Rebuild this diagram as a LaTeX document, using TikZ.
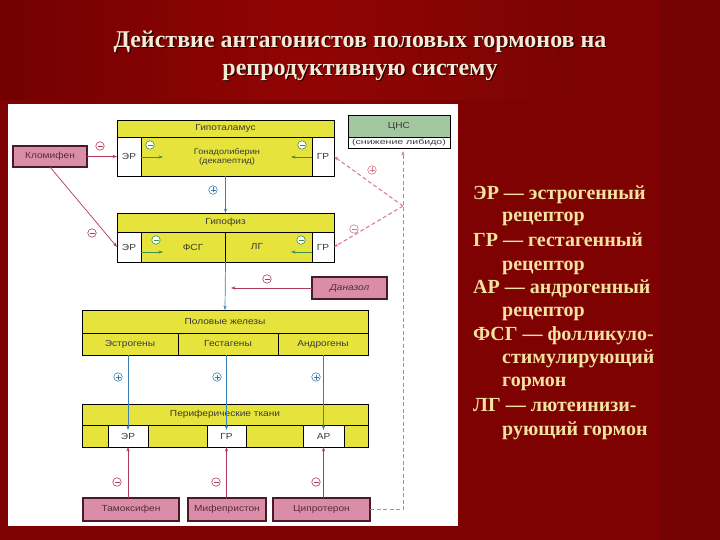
\documentclass[tikz,border=0pt]{standalone}
\usepackage{fontspec}
\setmainfont{Liberation Serif}
\newfontfamily\dsans[FakeStretch=1.15]{Liberation Sans}
\newfontfamily\dsansw[FakeStretch=1.45]{Liberation Sans}
\usetikzlibrary{arrows.meta,calc}
\definecolor{bgred}{HTML}{7E0202}
\definecolor{bgtop}{HTML}{920404}
\definecolor{bgtopL}{HTML}{720101}
\definecolor{yel}{HTML}{E6E33C}
\definecolor{txt}{HTML}{3A3A3A}
\definecolor{pinkc}{HTML}{D98DA9}
\definecolor{drugedge}{HTML}{4A1A28}
\definecolor{drugtxt}{HTML}{5A2A3A}
\definecolor{cnsg}{HTML}{A3C8A0}
\definecolor{bluec}{HTML}{3B80B5}
\definecolor{redc}{HTML}{B03A58}
\definecolor{dashc}{HTML}{D9788C}
\definecolor{greenc}{HTML}{3F8F4A}
\definecolor{cream}{HTML}{F4EAD6}
\definecolor{legc}{HTML}{F3E2A0}
\tikzset{
  blk/.style={draw=black, line width=0.8pt, fill=yel, inner sep=0pt, outer sep=0pt,
    font=\dsans\fontsize{8.8}{10}\selectfont, text=txt, align=center},
  cellw/.style={blk, fill=white},
  drug/.style={draw=drugedge, line width=1.1pt, fill=pinkc, inner sep=0pt, outer sep=0pt,
    font=\dsans\fontsize{8.8}{10}\selectfont, text=drugtxt},
  lbl/.style={font=\dsans\fontsize{8}{9}\selectfont, text=txt, inner sep=0pt, align=center},
  sgnc/.style={circle, draw=#1, line width=0.6pt, minimum size=8.5pt, inner sep=0pt, fill=white},
  sminus/.style={sgnc=#1, path picture={\draw[#1,line width=0.6pt]
     ([xshift=-2.5pt]path picture bounding box.center) -- ([xshift=2.5pt]path picture bounding box.center);}},
  splus/.style={sgnc=#1, path picture={\draw[#1,line width=0.6pt]
     ([xshift=-2.5pt]path picture bounding box.center) -- ([xshift=2.5pt]path picture bounding box.center)
     ([yshift=-2.5pt]path picture bounding box.center) -- ([yshift=2.5pt]path picture bounding box.center);}},
  arr/.style={-{Stealth[length=4.5pt,width=3.2pt]}, line width=0.7pt},
  dsh/.style={arr, draw=dashc, line width=1pt, dash pattern=on 4pt off 2.5pt},
  ttl/.style={font=\fontsize{24}{27}\selectfont\bfseries, text=cream, inner sep=0pt},
  ttlsh/.style={font=\fontsize{24}{27}\selectfont\bfseries, text=black!70!bgred, inner sep=0pt},
  leg/.style={font=\fontsize{20}{22}\selectfont\bfseries, text=legc, inner sep=0pt, anchor=base west},
}
\begin{document}
\begin{tikzpicture}[x=1pt,y=-1pt]
\useasboundingbox (0,0) rectangle (720,540);
% background
\fill[bgred] (0,0) rectangle (720,540);
\shade[left color=bgtopL, right color=bgtop, shading angle=90] (0,0) rectangle (300,100);
\shade[left color=bgtop, right color=bgtop!85!black] (300,0) rectangle (572,100);
\fill[black!8!bgred] (660,0) rectangle (720,540);
% title
\node[ttlsh] at (361.3,43.3) {Действие антагонистов половых гормонов на};
\node[ttlsh] at (361.3,73.3) {репродуктивную систему};
\node[ttl] (t1) at (360,42) {Действие антагонистов половых гормонов на};
\node[ttl] (t2) at (360,72) {репродуктивную систему};
% white panel
\fill[white] (8,104) rectangle (458,526);

% Hypothalamus
\node[blk, minimum width=217pt, minimum height=17pt] (hypH) at (225.5,128.5) {Гипоталамус};
\node[blk, minimum width=217pt, minimum height=39pt] (hypB) at (225.5,156.5) {};
\node[lbl] (hypT) at (227,157) {Гонадолиберин\\(декапептид)};
\node[cellw, minimum width=24pt, minimum height=39pt] (hypER) at (129,156.5) {ЭР};
\node[cellw, minimum width=22pt, minimum height=39pt] (hypGR) at (323,156.5) {ГР};

% CNS
\node[blk, fill=cnsg, minimum width=102pt, minimum height=22pt] (cnsH) at (399,126) {ЦНС};
\node[cellw, minimum width=102pt, minimum height=11pt, font=\dsansw\fontsize{7.3}{8}\selectfont] (cnsL) at (399,142.5) {(снижение либидо)};

% Pituitary
\node[blk, minimum width=217pt, minimum height=19pt] (gipH) at (225.5,222.5) {Гипофиз};
\node[blk, minimum width=217pt, minimum height=30pt] (gipB) at (225.5,247) {};
\draw[line width=0.8pt] (gipB.north) -- (gipB.south);
\node[lbl, font=\dsans\fontsize{8.8}{10}\selectfont] (fsg) at (193,247) {ФСГ};
\node[lbl, font=\dsans\fontsize{8.8}{10}\selectfont] (lg) at (257,247) {ЛГ};
\node[cellw, minimum width=24pt, minimum height=30pt] (gipER) at (129,247) {ЭР};
\node[cellw, minimum width=22pt, minimum height=30pt] (gipGR) at (323,247) {ГР};

% Gonads
\node[blk, minimum width=286pt, minimum height=23pt] (gonH) at (225,321.5) {Половые железы};
\node[blk, minimum width=96pt, minimum height=22pt] (estr) at (130,344) {Эстрогены};
\node[blk, minimum width=100pt, minimum height=22pt] (gest) at (228,344) {Гестагены};
\node[blk, minimum width=90pt, minimum height=22pt] (andr) at (323,344) {Андрогены};

% Peripheral tissues
\node[blk, minimum width=286pt, minimum height=21pt] (perH) at (225,414.5) {Периферические ткани};
\node[blk, minimum width=286pt, minimum height=22pt] (perB) at (225,436) {};
\node[cellw, minimum width=40pt, minimum height=22pt] (perER) at (128,436) {ЭР};
\node[cellw, minimum width=39pt, minimum height=22pt] (perGR) at (226.5,436) {ГР};
\node[cellw, minimum width=41pt, minimum height=22pt] (perAR) at (323.5,436) {АР};

% drugs
\node[drug, minimum width=74pt, minimum height=21pt] (klo) at (50,156.5) {Кломифен};
\node[drug, minimum width=75pt, minimum height=22pt] (dan) at (349.5,288) {\itshape Даназол};
\node[drug, minimum width=96pt, minimum height=23pt] (tam) at (131,509.5) {Тамоксифен};
\node[drug, minimum width=78pt, minimum height=23pt] (mif) at (227,509.5) {Мифепристон};
\node[drug, minimum width=97pt, minimum height=23pt] (cip) at (321.5,509.5) {Ципротерон};

% free ends
\coordinate (hypEa) at (163,157);
\coordinate (hypGa) at (291,157);
\coordinate (gipEa) at (163,252);
\coordinate (gipGa) at (291,252);
\coordinate (danE) at (231,288);
\coordinate (cnsTip) at (403,151);
\coordinate (jn) at (403,206);

% green internal arrows
\draw[arr, greenc] (hypER.east |- hypEa) -- (hypEa);
\draw[arr, greenc] (hypGR.west |- hypGa) -- (hypGa);
\draw[arr, greenc] (gipER.east |- gipEa) -- (gipEa);
\draw[arr, greenc] (gipGR.west |- gipGa) -- (gipGa);
\node[sminus=greenc] (g1) at (150,145) {};
\node[sminus=greenc] (g2) at (302,145) {};
\node[sminus=greenc] (g3) at (156,240) {};
\node[sminus=greenc] (g4) at (301,240) {};

% blue main axis
\draw[arr, bluec] (hypB.south) -- (gipH.north);
\draw[arr, bluec] (gipB.south) -- (gonH.north);
\node[splus=bluec] (b0) at (213,190) {};
\draw[arr, bluec] (estr.south -| perER) -- ([yshift=-5pt]perH.south -| perER);
\draw[arr, bluec] (gest.south -| perGR) -- ([yshift=-5pt]perH.south -| perGR);
\draw[arr, bluec] (andr.south -| perAR) -- ([yshift=-5pt]perH.south -| perAR);
\node[splus=bluec] (b1) at (118,377) {};
\node[splus=bluec] (b2) at (217,377) {};
\node[splus=bluec] (b3) at (316,377) {};

% clomiphene
\draw[arr, redc] (klo.east) -- (hypER.west);
\draw[arr, redc] (klo.south) -- (gipER.west);
\node[sminus=redc] (r1) at (100,146) {};
\node[sminus=redc] (r2) at (92,233) {};

% danazol
\draw[arr, redc] (dan.west) -- (danE);
\node[sminus=redc] (r3) at (267,279) {};

% antagonists at periphery
\draw[arr, redc] (perER |- tam.north) -- (perER.south);
\draw[arr, redc] (perGR |- mif.north) -- (perGR.south);
\draw[arr, redc] (perAR |- cip.north) -- (perAR.south);
\node[sminus=redc] (r4) at (117,482) {};
\node[sminus=redc] (r5) at (216,482) {};
\node[sminus=redc] (r6) at (316,482) {};

% cyproterone dashed feedback
\draw[dsh] (cip.east) -| (cnsTip);
\draw[dsh] (jn) -- (hypGR.east);
\draw[dsh] (jn) -- (gipGR.east);
\node[splus=dashc] (d1) at (372,170) {};
\node[sminus=dashc] (d2) at (354,229) {};

% legend
\node[leg] (l1) at (473,200) {ЭР — эстрогенный};
\node[leg] (l2) at (502,222) {рецептор};
\node[leg] (l3) at (473,247) {ГР — гестагенный};
\node[leg] (l4) at (502,270) {рецептор};
\node[leg] (l5) at (473,293) {АР — андрогенный};
\node[leg] (l6) at (502,316) {рецептор};
\node[leg] (l7) at (473,340) {ФСГ — фолликуло-};
\node[leg] (l8) at (502,363) {стимулирующий};
\node[leg] (l9) at (502,386) {гормон};
\node[leg] (l10) at (473,411) {ЛГ — лютеинизи-};
\node[leg] (l11) at (502,435) {рующий гормон};
\end{tikzpicture}
\end{document}
